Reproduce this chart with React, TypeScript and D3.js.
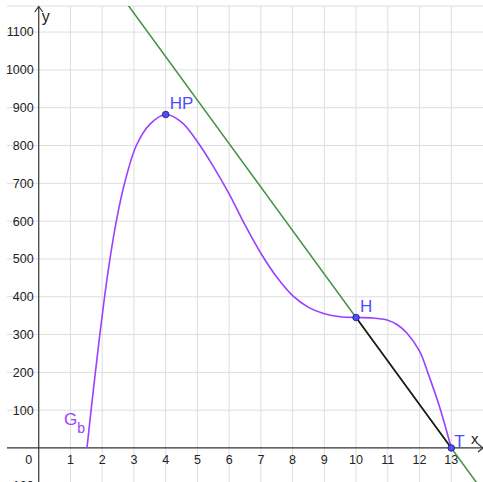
import React from "react";
import * as d3 from "d3";

// Graph G_b
const curveX = [1.52, 1.65, 1.785, 1.925, 2.075, 2.245, 2.445, 2.705, 3.075, 3.5, 4.0, 4.5, 5.0, 5.5, 6.0, 6.5, 7.0, 7.5, 8.0, 8.5, 9.0, 9.5, 10.0, 10.5, 11.0, 11.3, 11.6, 12.0, 12.3, 12.63, 13.0];
const curveY = [0, 100, 200, 300, 400, 500, 600, 700, 800, 856, 882, 862, 810, 745, 672, 590, 515, 452, 403, 372, 355, 347, 345, 344, 338, 326, 304, 256, 190, 109, 0];

// Named points
const pointNames = ["HP", "H", "T"];
const pointX = [4, 10, 13];
const pointY = [882, 345, 0];

// Axis ticks
const xTicks = [1, 2, 3, 4, 5, 6, 7, 8, 9, 10, 11, 12, 13];
const yTicks = [-100, 100, 200, 300, 400, 500, 600, 700, 800, 900, 1000, 1100];

const W = 483;
const H = 482;

export default function App() {
  const x = d3.scaleLinear().domain([-1, 14]).range([7, 483]);
  const y = d3.scaleLinear().domain([-90, 1169]).range([482, 6]);

  const curveData = curveX.map((cx, i) => [cx, curveY[i]] as [number, number]);
  const line = d3
    .line<[number, number]>()
    .x((d) => x(d[0]))
    .y((d) => y(d[1]))
    .curve(d3.curveCatmullRom.alpha(0.5));

  // green line through H and T, extended across the view
  const hIdx = 1;
  const tIdx = 2;
  const slope = (pointY[tIdx] - pointY[hIdx]) / (pointX[tIdx] - pointX[hIdx]);
  const lineAt = (xv: number) => pointY[hIdx] + slope * (xv - pointX[hIdx]);
  const gx0 = -1;
  const gx1 = 14;

  const purple = "#9a40ff";
  const blue = "#4d4dff";
  const grid = "#dedede";
  const font = "Liberation Sans, Arial, sans-serif";

  const [x0, x1] = x.range();
  const [yb, yt] = y.range();

  const labelOffsets: Record<string, [number, number]> = {
    HP: [4, -6],
    H: [4, -6],
    T: [3, -1],
  };

  return (
    <svg
      width={W}
      height={H}
      style={{ position: "absolute", left: 0, top: 0, background: "#fff" }}
      fontFamily={font}
    >
      <defs>
        <clipPath id="plot">
          <rect x={x0} y={yt} width={x1 - x0} height={yb - yt} />
        </clipPath>
      </defs>
      {/* grid */}
      <g stroke={grid} strokeWidth={1}>
        {xTicks.map((t) => (
          <line key={"gx" + t} x1={x(t)} x2={x(t)} y1={yt} y2={yb} />
        ))}
        {yTicks.map((t) => (
          <line key={"gy" + t} x1={x0} x2={x1} y1={y(t)} y2={y(t)} />
        ))}
        <line x1={x0} x2={x1} y1={yt} y2={yt} />
      </g>
      {/* axes */}
      <g stroke="#333" strokeWidth={1.2} fill="none">
        <line x1={x0} x2={x1} y1={y(0)} y2={y(0)} />
        <line x1={x(0)} x2={x(0)} y1={yt + 0.5} y2={yb} />
        <polyline points={`${x(0) - 4},${yt + 6} ${x(0)},${yt + 0.5} ${x(0) + 4},${yt + 6}`} />
        <polyline points={`${x1 - 5},${y(0) - 4} ${x1},${y(0)} ${x1 - 5},${y(0) + 4}`} />
      </g>
      {/* tick labels */}
      <g fill="#222" fontSize={12.5}>
        {yTicks.map((t) => (
          <text key={"ly" + t} x={x(0) - 5} y={y(t)} dy="0.35em" textAnchor="end">
            {t}
          </text>
        ))}
        {xTicks.map((t) => (
          <text key={"lx" + t} x={x(t)} y={y(0) + 16} textAnchor="middle">
            {t}
          </text>
        ))}
        <text x={x(0) - 10} y={y(0) + 16} textAnchor="middle">
          0
        </text>
      </g>
      <text x={x(0) + 3} y={yt + 16} fontSize={16} fill="#222">
        y
      </text>
      <text x={x1 - 12} y={y(0) - 4} fontSize={15} fill="#222">
        x
      </text>
      {/* green line and black segment */}
      <g clipPath="url(#plot)">
        <line
          x1={x(gx0)}
          y1={y(lineAt(gx0))}
          x2={x(gx1)}
          y2={y(lineAt(gx1))}
          stroke="#3f913f"
          strokeWidth={1.5}
        />
        <line
          x1={x(pointX[hIdx])}
          y1={y(pointY[hIdx])}
          x2={x(pointX[tIdx])}
          y2={y(pointY[tIdx])}
          stroke="#1c1c1c"
          strokeWidth={1.6}
        />
        <path d={line(curveData) || ""} fill="none" stroke={purple} strokeWidth={1.6} />
      </g>
      {/* points */}
      {pointNames.map((n, i) => (
        <g key={n}>
          <circle cx={x(pointX[i])} cy={y(pointY[i])} r={3.3} fill={blue} stroke="#1a1a66" strokeWidth={0.8} />
          <text
            x={x(pointX[i]) + labelOffsets[n][0]}
            y={y(pointY[i]) + labelOffsets[n][1]}
            fontSize={17}
            fill={blue}
          >
            {n}
          </text>
        </g>
      ))}
      {/* curve label */}
      <text x={64} y={425} fontSize={17} fill={purple}>
        G
        <tspan fontSize={14} dy={8}>
          b
        </tspan>
      </text>
    </svg>
  );
}
